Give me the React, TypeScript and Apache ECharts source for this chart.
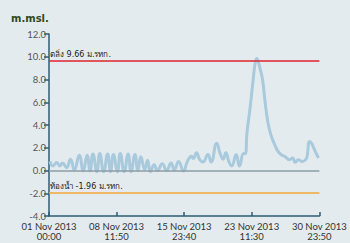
import React, { useEffect, useRef } from "react";
import * as echarts from "echarts";

// hours since 01 Nov 2013 00:00
const hours = [
  2.6, 10.4, 20.8, 28.6, 36.4, 46.8, 57.2, 67.6, 80.6, 91, 101.4, 109.2, 117, 127.4, 135.2, 145.6,
  156, 163.8, 171.6, 182, 189.8, 200.2, 210.6, 218.4, 228.8, 236.6, 244.4, 254.8, 262.6, 269.6,
  280, 288.6, 301.6, 312.8, 325, 333.6, 345, 358, 368.4, 379.6, 384, 392.6, 401.2, 410, 423,
  431.6, 446.4, 455, 463.6, 470.6, 479.2, 486.2, 498.4, 507, 518.2, 522.6, 527, 535.6, 542.6,
  548.6, 553, 557.2, 561.6, 568.6, 574.6, 583.2, 592, 600.6, 609.2, 618, 626.6, 632.6, 639.6,
  648.2, 655.2, 663.8, 674.2, 683, 687.2, 693.4, 698.6, 704.6, 710.6, 717.6,
];
const levels = [
  0.8, 0.4, 0.7, 0.4, 0.65, 0.25, 1.0, 0.05, 1.35, -0.05, 1.35, -0.05, 1.45, -0.1, 1.5, -0.1,
  1.45, -0.1, 1.4, -0.1, 1.5, -0.1, 1.45, -0.1, 1.4, 0.0, 1.2, 0.1, 0.9, -0.1,
  0.5, 0.0, 0.6, 0.0, 0.65, 0.05, 0.8, -0.05, 0.8, 1.25, 1.05, 1.55, 0.95, 0.75, 1.4,
  0.75, 2.4, 1.55, 1.0, 1.55, 0.75, 0.4, 1.4, 0.4, 1.5, 1.5, 3.3, 5.6, 7.7,
  9.4, 9.85, 9.55, 9.0, 7.95, 6.2, 4.15, 3.0, 2.3, 1.7, 1.4, 1.25, 1.1, 0.95,
  1.1, 0.72, 0.95, 0.8, 0.95, 1.25, 2.55, 2.4, 2.0, 1.55, 1.1,
];
// tick positions, minutes since start
const tickMinutes = [0, 10790, 21580, 32370, 43190];
const bankLevel = 9.66;
const bedLevel = -1.96;
const bankLabel = "ตลิ่ง 9.66 ม.รทก.";
const bedLabel = "ท้องน้ำ -1.96 ม.รทก.";
const unitTitle = "m.msl.";

const pad = (n: number) => (n < 10 ? "0" + n : "" + n);
const fmt = (m: number) => {
  const d = new Date(Date.UTC(2013, 10, 1) + Math.round(m) * 60000);
  const mon = ["Jan","Feb","Mar","Apr","May","Jun","Jul","Aug","Sep","Oct","Nov","Dec"][d.getUTCMonth()];
  return pad(d.getUTCDate()) + " " + mon + " " + d.getUTCFullYear() + "\n" + pad(d.getUTCHours()) + ":" + pad(d.getUTCMinutes());
};

export default function App() {
  const ref = useRef<HTMLDivElement>(null);
  useEffect(() => {
    if (!ref.current) return;
    const chart = echarts.init(ref.current, undefined, { renderer: "svg" });
    const font = "Lato, 'DejaVu Sans', sans-serif";
    chart.setOption({
      animation: false,
      backgroundColor: "#e4ebee",
      title: {
        text: unitTitle,
        left: 6,
        top: 8,
        textStyle: { fontSize: 10, fontWeight: "bold", color: "#2e4a22", fontFamily: "'DejaVu Sans', sans-serif" },
      },
      grid: { left: 49, right: 24, top: 34, bottom: 27 },
      xAxis: {
        type: "value",
        min: 0,
        max: 43190,
        axisLine: { onZero: false, lineStyle: { color: "#2d5d72", width: 1.5 } },
        axisTick: { show: true, inside: true, length: 4, customValues: tickMinutes, lineStyle: { color: "#2d5d72", width: 1.5 } },
        axisLabel: {
          customValues: tickMinutes,
          formatter: (v: number) => fmt(v),
          fontSize: 9.5,
          lineHeight: 10,
          color: "#333",
          fontFamily: font,
          margin: 5,
        },
        splitLine: { show: false },
      },
      yAxis: {
        type: "value",
        min: -4,
        max: 12,
        interval: 2,
        axisLine: { show: true, lineStyle: { color: "#2d5d72", width: 1.5 } },
        axisTick: { show: true, length: 5, lineStyle: { color: "#2d5d72", width: 1.5 } },
        axisLabel: {
          formatter: (v: number) => v.toFixed(1),
          fontSize: 9.5,
          color: "#555",
          fontFamily: font,
          margin: 3,
        },
        splitLine: { show: false },
      },
      series: [
        {
          type: "line",
          data: hours.map((h, i) => [h * 60, levels[i]]),
          showSymbol: false,
          smooth: 0.5,
          lineStyle: { color: "#a9c9dd", width: 3 },
          z: 3,
          markLine: {
            silent: true,
            symbol: "none",
            data: [
              {
                yAxis: bankLevel,
                lineStyle: { color: "#e0242c", width: 1.5, type: "solid" },
                label: { show: true, position: "insideStartTop", formatter: bankLabel, fontSize: 8, color: "#222", fontFamily: "'DejaVu Sans', sans-serif", distance: [1, 2] },
              },
              {
                yAxis: bedLevel,
                lineStyle: { color: "#f0a93a", width: 1.5, type: "solid" },
                label: { show: true, position: "insideStartTop", formatter: bedLabel, fontSize: 8, color: "#222", fontFamily: "'DejaVu Sans', sans-serif", distance: [1, 2] },
              },
              {
                yAxis: 0,
                lineStyle: { color: "#8c9da5", width: 1.5, type: "solid" },
                label: { show: false },
              },
            ],
          },
        },
      ],
    });
    return () => chart.dispose();
  }, []);
  return <div ref={ref} style={{ position: "fixed", left: 0, top: 0, width: 350, height: 243 }} />;
}
